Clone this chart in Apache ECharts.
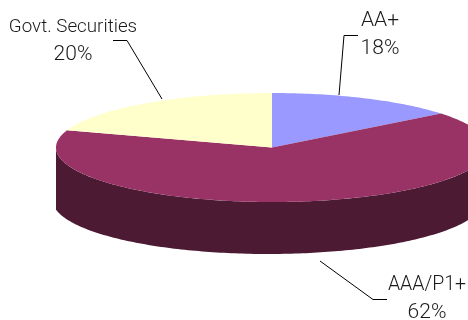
<!DOCTYPE html>
<html>
<head>
<meta charset="utf-8">
<style>
  html, body { margin: 0; padding: 0; background: #fff; }
  #chart { width: 468px; height: 320px; }
</style>
<script src="https://cdn.jsdelivr.net/npm/echarts@6/dist/echarts.min.js"></script>
</head>
<body>
<div id="chart"></div>
<script>
const categories = ['AA+', 'AAA/P1+', 'Govt. Securities'];
const percentLabels = [18, 62, 20];
// the picture's slices are not drawn to their printed percentages, these are the shares as drawn
const drawnShares = [14.3, 65.8, 19.9];
const topColors = ['#9999FF', '#993366', '#FFFFCC'];
const wallColors = ['#4D4D80', '#4D1A33', '#808066'];

const disc = { cx: 272, cy: 147.5, rx: 216, ry: 54.5 };
const base = { cx: 268, cy: 200, rx: 215.5, ry: 54, minX: 56 };
const labelPos = [[380, 21, 48.5], [427, 285.5, 312.5], [73, 27, 54.5]];
const nameFontSize = [21, 19.5, 18.8];
const percentFontSize = 21;
const leaders = [
  [[358, 35.5], [344, 35.5], [339, 95]],
  [[387, 299.5], [373, 299.5], [320, 261]],
  [[113, 40.5], [127, 40.5], [162, 99]]
];

const rad = d => d * Math.PI / 180;
const onEllipse = (e, deg) => [e.cx + e.rx * Math.sin(rad(deg)), e.cy - e.ry * Math.cos(rad(deg))];

function arc(e, from, to) {
  const pts = [];
  const steps = Math.max(2, Math.ceil(Math.abs(to - from)));
  for (let i = 0; i <= steps; i++) pts.push(onEllipse(e, from + (to - from) * i / steps));
  return pts;
}

function renderSlice(params, api) {
  const i = params.dataIndex;
  const total = drawnShares.reduce((a, b) => a + b, 0);
  let start = 0;
  for (let k = 0; k < i; k++) start += drawnShares[k] / total * 360;
  const end = start + api.value(0) / total * 360;
  const children = [];

  // side wall, only the part of the slice facing the viewer
  const a0 = Math.max(start, 90);
  const a1 = Math.min(end, 270);
  if (a1 > a0) {
    // base ellipse sits a little left of the disc, so it stops at the disc's left edge
    const baseStop = 180 + (180 / Math.PI) * Math.asin((base.cx - base.minX) / base.rx);
    const upper = arc(disc, a0, a1);
    const lower = arc(base, a0, Math.min(a1, baseStop)).reverse();
    children.push({
      type: 'polygon',
      shape: { points: upper.concat(lower) },
      style: { fill: wallColors[i] }
    });
  }

  children.push({
    type: 'polygon',
    shape: { points: [[disc.cx, disc.cy]].concat(arc(disc, start, end)) },
    style: { fill: topColors[i] }
  });

  children.push({
    type: 'polyline',
    shape: { points: leaders[i] },
    style: { fill: null, stroke: '#000', lineWidth: 1 }
  });

  const textStyle = { fill: '#1a1a1a', align: 'center', verticalAlign: 'middle' };
  children.push({
    type: 'text',
    style: Object.assign({
      text: categories[i], x: labelPos[i][0], y: labelPos[i][1],
      font: '300 ' + nameFontSize[i] + 'px Roboto'
    }, textStyle)
  });
  children.push({
    type: 'text',
    style: Object.assign({
      text: percentLabels[i] + '%', x: labelPos[i][0], y: labelPos[i][2],
      font: '300 ' + percentFontSize + 'px Roboto'
    }, textStyle)
  });

  return { type: 'group', children: children };
}

const chart = echarts.init(document.getElementById('chart'), null, { renderer: 'canvas' });
chart.setOption({
  animation: false,
  backgroundColor: '#fff',
  series: [{
    type: 'custom',
    coordinateSystem: 'none',
    clip: false,
    renderItem: renderSlice,
    data: drawnShares.map((v, i) => ({ name: categories[i], value: [v, percentLabels[i]] }))
  }]
});
</script>
</body>
</html>
